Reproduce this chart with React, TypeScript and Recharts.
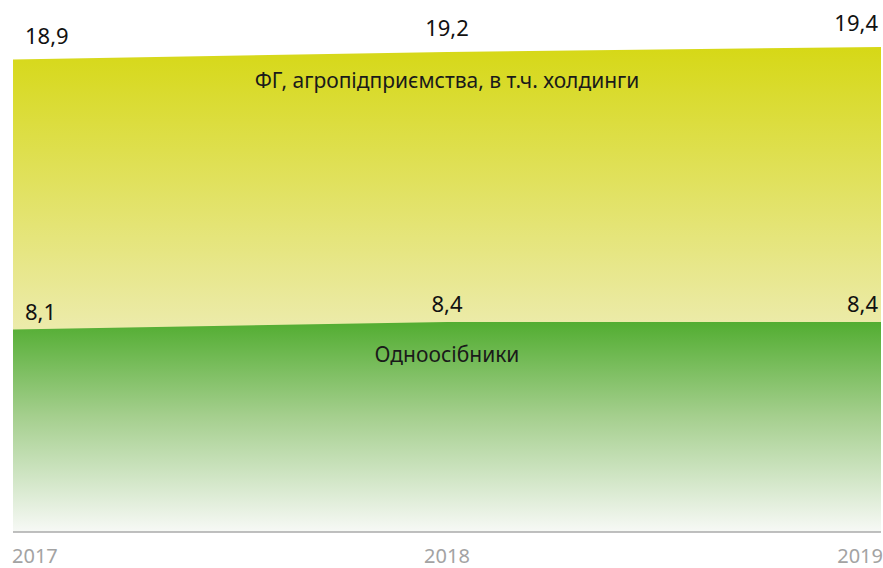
import { AreaChart, Area, XAxis, YAxis, LabelList } from 'recharts';

// years on the x axis
const years = ['2017', '2018', '2019'];
// total area (ФГ, агропідприємства, в т.ч. холдинги incl. below)
const totalValues = [18.9, 19.2, 19.4];
// individual farmers
const singleValues = [8.1, 8.4, 8.4];
const seriesNames = ['ФГ, агропідприємства, в т.ч. холдинги', 'Одноосібники'];

const data = years.map((year, i) => ({ year, total: totalValues[i], single: singleValues[i] }));

const FONT = '"Noto Sans", "Open Sans", sans-serif';

const anchorFor = (i: number) => (i === 0 ? 'start' : i === years.length - 1 ? 'end' : 'middle');
const shiftFor = (i: number) => (i === 0 ? 12 : i === years.length - 1 ? -3 : 0);

function YearTick(props: any) {
  const { x, y, payload, index } = props;
  const anchor = anchorFor(index);
  const dx = index === 0 ? -1 : index === years.length - 1 ? 2 : 0;
  return (
    <text x={x + dx} y={y + 23} textAnchor={anchor} fontFamily={FONT} fontSize={20} fill="#a3a3a3">
      {payload.value}
    </text>
  );
}

function makeValueLabel(lift: number, name: string, nameDrop: number) {
  return (props: any) => {
    const { x, y, value, index } = props;
    return (
      <g>
        <text
          x={x + shiftFor(index)}
          y={y - lift}
          textAnchor={anchorFor(index)}
          fontFamily={FONT}
          fontSize={22}
          fill="#111"
        >
          {String(value).replace('.', ',')}
        </text>
        {index === 1 && (
          <text x={x} y={y + nameDrop} textAnchor="middle" dominantBaseline="central" fontFamily={FONT} fontSize={21} fill="#1a1a1a">
            {name}
          </text>
        )}
      </g>
    );
  };
}

export default function App() {
  return (
    <div style={{ position: 'absolute', left: 0, top: 0, width: 883, height: 568, background: '#fff' }}>
      <AreaChart width={883} height={568} data={data} margin={{ top: 32, right: 2, bottom: 0, left: 13 }}>
        <defs>
          <linearGradient id="gradTotal" x1="0" y1="0" x2="0" y2="1">
            <stop offset="0%" stopColor="#d6d816" />
            <stop offset="58%" stopColor="#ecebab" />
            <stop offset="100%" stopColor="#f6f5dc" />
          </linearGradient>
          <linearGradient id="gradSingle" x1="0" y1="0" x2="0" y2="1">
            <stop offset="0%" stopColor="#52ad31" />
            <stop offset="45%" stopColor="#a5cf8e" />
            <stop offset="100%" stopColor="#f7f9f6" />
          </linearGradient>
        </defs>
        <XAxis
          dataKey="year"
          height={36}
          axisLine={{ stroke: '#aaaaaa', strokeWidth: 1.5 }}
          tickLine={false}
          tick={<YearTick />}
          interval={0}
        />
        <YAxis hide domain={[0, 20]} />
        <Area
          type="linear"
          dataKey="total"
          stroke="none"
          fill="url(#gradTotal)"
          fillOpacity={1}
          isAnimationActive={false}
        >
          <LabelList dataKey="total" content={makeValueLabel(16, seriesNames[0], 28)} />
        </Area>
        <Area
          type="linear"
          dataKey="single"
          stroke="none"
          fill="url(#gradSingle)"
          fillOpacity={1}
          isAnimationActive={false}
        >
          <LabelList dataKey="single" content={makeValueLabel(10, seriesNames[1], 32)} />
        </Area>
      </AreaChart>
    </div>
  );
}
